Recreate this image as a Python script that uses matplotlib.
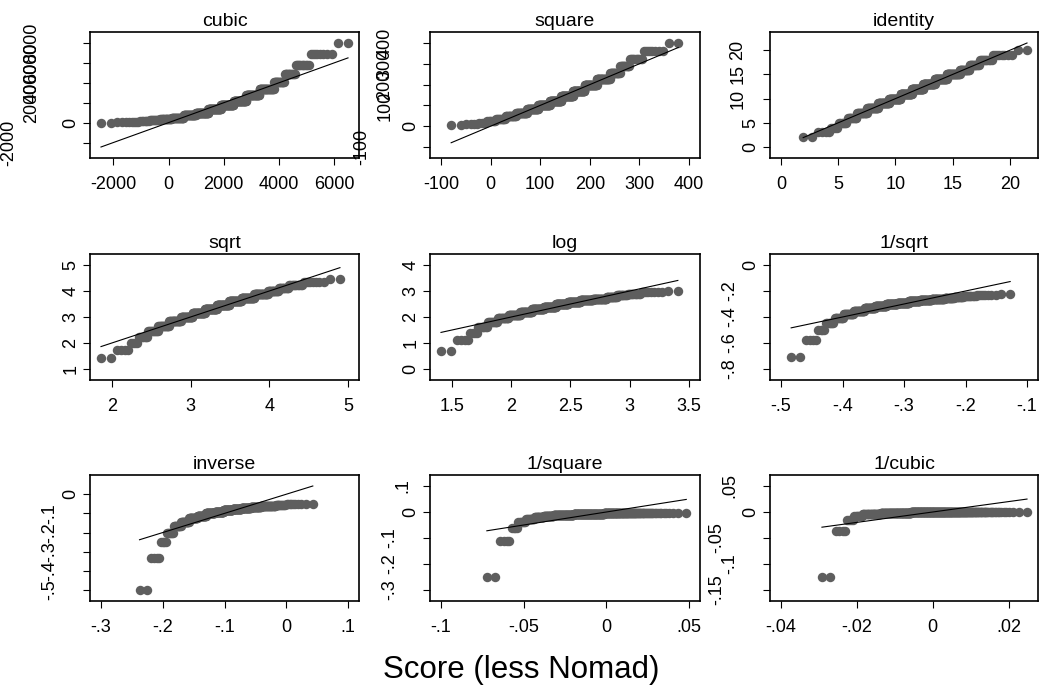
import numpy as np
import matplotlib
matplotlib.use("Agg")
import matplotlib.pyplot as plt
from statistics import NormalDist

# ---- data: frequency of each score value (read from the quantile runs) ----
score_values = list(range(2, 21))
score_counts = [2, 4, 4, 7, 11, 17, 25, 32, 40, 44, 46, 43, 39, 33, 18, 13, 11, 8, 2]

titles = ["cubic", "square", "identity", "sqrt", "log", "1/sqrt",
          "inverse", "1/square", "1/cubic"]

x_ticks = [[-2000, 0, 2000, 4000, 6000],
           [-100, 0, 100, 200, 300, 400],
           [0, 5, 10, 15, 20],
           [2, 3, 4, 5],
           [1.5, 2, 2.5, 3, 3.5],
           [-.5, -.4, -.3, -.2, -.1],
           [-.3, -.2, -.1, 0, .1],
           [-.1, -.05, 0, .05],
           [-.04, -.02, 0, .02]]
x_labels = [["-2000", "0", "2000", "4000", "6000"],
            ["-100", "0", "100", "200", "300", "400"],
            ["0", "5", "10", "15", "20"],
            ["2", "3", "4", "5"],
            ["1.5", "2", "2.5", "3", "3.5"],
            ["-.5", "-.4", "-.3", "-.2", "-.1"],
            ["-.3", "-.2", "-.1", "0", ".1"],
            ["-.1", "-.05", "0", ".05"],
            ["-.04", "-.02", "0", ".02"]]
y_ticks = [[-2000, 0, 2000, 4000, 6000, 8000],
           [-100, 0, 100, 200, 300, 400],
           [0, 5, 10, 15, 20],
           [1, 2, 3, 4, 5],
           [0, 1, 2, 3, 4],
           [-.8, -.6, -.4, -.2, 0],
           [-.5, -.4, -.3, -.2, -.1, 0],
           [-.3, -.2, -.1, 0, .1],
           [-.15, -.1, -.05, 0, .05]]
y_labels = [["-2000", "0", "2000", "4000", "6000", "8000"],
            ["-100", "0", "100", "200", "300", "400"],
            ["0", "5", "10", "15", "20"],
            ["1", "2", "3", "4", "5"],
            ["0", "1", "2", "3", "4"],
            ["-.8", "-.6", "-.4", "-.2", "0"],
            ["-.5", "-.4", "-.3", "-.2", "-.1", "0"],
            ["-.3", "-.2", "-.1", "0", ".1"],
            ["-.15", "-.1", "-.05", "0", ".05"]]

x_title = "Score (less Nomad)"

# ladder-of-powers transformations
def transform(name, v):
    v = np.asarray(v, dtype=float)
    return {"cubic": v ** 3, "square": v ** 2, "identity": v,
            "sqrt": np.sqrt(v), "log": np.log(v), "1/sqrt": -1 / np.sqrt(v),
            "inverse": -1 / v, "1/square": -1 / v ** 2,
            "1/cubic": -1 / v ** 3}[name]

plt.rcParams["font.family"] = ["Liberation Sans", "DejaVu Sans"]

W, H = 1043, 687
fig = plt.figure(figsize=(W / 100, H / 100), dpi=100)

col_px = [(90, 359), (430, 700), (770, 1038)]
row_px = [(32, 158), (254, 380), (475, 601)]

raw = np.repeat(score_values, score_counts)
nd = NormalDist()
marker_color = "#5e5e5e"


def label_offset(s):
    w = 0.0
    for i, ch in enumerate(s):
        if ch.isdigit():
            w += 1.0
        elif ch == "-":
            w += 1.8 if (i + 1 < len(s) and s[i + 1].isdigit()) else 1.0
        else:
            w += 0.6
    return 6 + 13 * w  # px


for k, name in enumerate(titles):
    r, c = divmod(k, 3)
    x0, x1 = col_px[c]
    y0, y1 = row_px[r]
    ax = fig.add_axes([x0 / W, 1 - y1 / H, (x1 - x0) / W, (y1 - y0) / H])
    y = np.sort(transform(name, raw))
    n = len(y)
    mu, sd = y.mean(), y.std(ddof=1)
    xq = np.array([mu + sd * nd.inv_cdf(i / (n + 1)) for i in range(1, n + 1)])

    ax.plot(xq, y, "o", ms=6.8, color=marker_color, mew=0, zorder=2)
    ax.plot([xq[0], xq[-1]], [xq[0], xq[-1]], color="black", lw=0.8, zorder=3)

    wpx, hpx = x1 - x0, y1 - y0
    lo = min(xq.min(), x_ticks[k][0]); hi = max(xq.max(), x_ticks[k][-1])
    p = (hi - lo) * 11 / (wpx - 22)
    ax.set_xlim(lo - p, hi + p)
    lo = min(y.min(), xq.min(), y_ticks[k][0]); hi = max(y.max(), xq.max(), y_ticks[k][-1])
    p = (hi - lo) * 11 / (hpx - 22)
    ax.set_ylim(lo - p, hi + p)

    ax.set_xticks(x_ticks[k])
    ax.set_xticklabels(x_labels[k], fontsize=13)
    ax.set_yticks(y_ticks[k])
    ax.set_yticklabels([])
    ax.tick_params(direction="out", length=5, width=0.8, colors="black")
    ax.tick_params(axis="x", pad=8)
    for sp in ax.spines.values():
        sp.set_linewidth(1.2)
    for t, s in zip(y_ticks[k], y_labels[k]):
        ax.annotate(s, xy=(0, t), xycoords=("axes fraction", "data"),
                    xytext=(-label_offset(s) * 0.72, 0), textcoords="offset points",
                    rotation=90, ha="center", va="center", fontsize=13,
                    annotation_clip=False)
    ax.set_title(name, fontsize=14, pad=4)

fig.text(0.5, 1 - 670 / H, x_title, ha="center", va="center", fontsize=22.5)
fig.savefig("out.png", dpi=100)
